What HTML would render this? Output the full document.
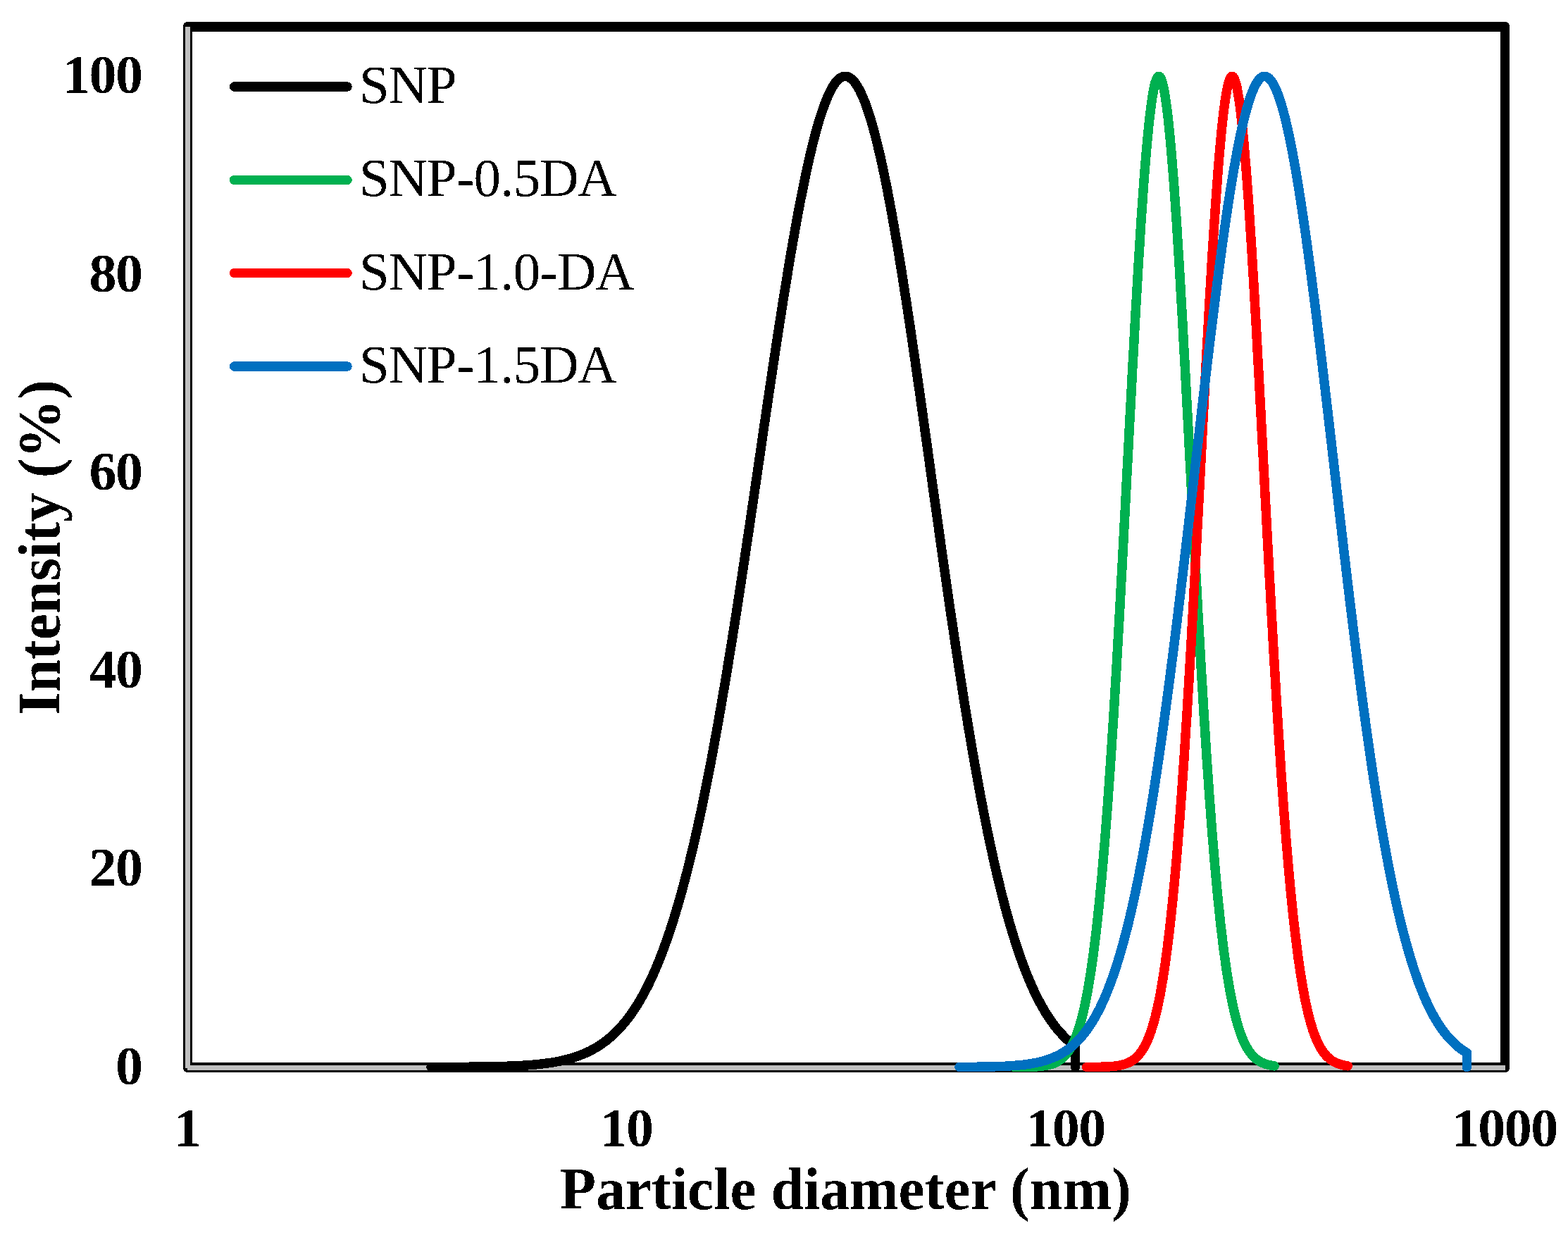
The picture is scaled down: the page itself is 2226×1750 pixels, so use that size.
<!DOCTYPE html>
<html lang="en">
<head>
<meta charset="utf-8">
<title>Particle size distribution</title>
<style>
html,body{margin:0;padding:0;background:#fff;}
body{width:2226px;height:1750px;}
svg{display:block;}
text{font-family:"Liberation Serif",serif;fill:#000;filter:url(#bin);}
.tick{font-size:78px;font-weight:bold;}
.title{font-size:83.6px;font-weight:bold;}
.leg{font-size:77px;}
</style>
</head>
<body>
<svg width="2226" height="1750" viewBox="0 0 2226 1750">
<defs>
<filter id="bin" x="-5%" y="-20%" width="110%" height="140%" color-interpolation-filters="sRGB">
<feComponentTransfer><feFuncA type="discrete" tableValues="0 1"/></feComponentTransfer>
</filter>
</defs>
<rect x="0" y="0" width="2226" height="1750" fill="#ffffff"/>
<g shape-rendering="crispEdges">
<path fill="#000" fill-rule="evenodd" d="M266 31 H2137 A6 6 0 0 1 2143 37 V1516 A6 6 0 0 1 2137 1522 H266 A6 6 0 0 1 260 1516 V37 A6 6 0 0 1 266 31 Z M273 45 V1508 H2130 V45 Z"/>
<path fill="#BFBFBF" d="M263 38 H270 V1512 H2137 V1519 H266 V1516 H263 Z"/>
</g>
<path d="M612.0 1514.5 L614.8 1514.5 L617.5 1514.4 L620.3 1514.4 L623.1 1514.4 L625.8 1514.4 L628.6 1514.4 L631.4 1514.4 L634.1 1514.4 L636.9 1514.4 L639.7 1514.4 L642.4 1514.4 L645.2 1514.4 L647.9 1514.4 L650.7 1514.3 L653.4 1514.3 L656.2 1514.3 L658.9 1514.3 L661.7 1514.3 L664.4 1514.3 L667.2 1514.2 L669.9 1514.2 L672.7 1514.2 L675.4 1514.2 L678.2 1514.1 L680.9 1514.1 L683.6 1514.1 L686.4 1514.0 L689.1 1514.0 L691.9 1514.0 L694.6 1513.9 L697.3 1513.9 L700.1 1513.8 L702.8 1513.8 L705.5 1513.7 L708.2 1513.6 L711.0 1513.6 L713.7 1513.5 L716.4 1513.4 L719.1 1513.3 L721.9 1513.2 L724.6 1513.1 L727.3 1513.0 L730.0 1512.9 L732.7 1512.8 L735.4 1512.7 L738.2 1512.5 L740.9 1512.4 L743.6 1512.2 L746.3 1512.0 L749.0 1511.8 L751.7 1511.6 L754.4 1511.4 L757.1 1511.2 L759.8 1511.0 L762.5 1510.7 L765.2 1510.4 L767.9 1510.1 L770.6 1509.8 L773.3 1509.5 L776.0 1509.1 L778.7 1508.8 L781.4 1508.4 L784.1 1507.9 L786.8 1507.5 L789.5 1507.0 L792.2 1506.5 L794.8 1506.0 L797.5 1505.4 L800.2 1504.8 L802.9 1504.1 L805.6 1503.4 L808.3 1502.7 L810.9 1502.0 L813.6 1501.2 L816.3 1500.3 L819.0 1499.4 L821.6 1498.4 L824.3 1497.4 L827.0 1496.4 L829.7 1495.3 L832.3 1494.1 L835.0 1492.8 L837.7 1491.5 L840.3 1490.1 L843.0 1488.7 L845.6 1487.2 L848.3 1485.6 L851.0 1483.9 L853.6 1482.1 L856.3 1480.2 L858.9 1478.3 L861.6 1476.3 L864.2 1474.1 L866.9 1471.9 L869.5 1469.5 L872.2 1467.0 L874.8 1464.5 L877.5 1461.8 L880.1 1459.0 L882.8 1456.0 L885.4 1452.9 L888.1 1449.7 L890.7 1446.4 L893.3 1442.9 L896.0 1439.3 L898.6 1435.5 L901.2 1431.5 L903.9 1427.4 L906.5 1423.2 L909.1 1418.7 L911.8 1414.1 L914.4 1409.3 L917.0 1404.3 L919.7 1399.2 L922.3 1393.8 L924.9 1388.3 L927.5 1382.5 L930.1 1376.6 L932.8 1370.4 L935.4 1364.0 L938.0 1357.4 L940.6 1350.6 L943.2 1343.6 L945.8 1336.3 L948.5 1328.8 L951.1 1321.1 L953.7 1313.1 L956.3 1304.9 L958.9 1296.4 L961.5 1287.7 L964.1 1278.7 L966.7 1269.5 L969.3 1260.1 L971.9 1250.3 L974.5 1240.4 L977.1 1230.1 L979.7 1219.6 L982.3 1208.9 L984.9 1197.9 L987.5 1186.6 L990.1 1175.0 L992.7 1163.2 L995.3 1151.2 L997.8 1138.9 L1000.4 1126.3 L1003.0 1113.5 L1005.6 1100.4 L1008.2 1087.1 L1010.8 1073.5 L1013.3 1059.7 L1015.9 1045.6 L1018.5 1031.4 L1021.1 1016.8 L1023.6 1002.1 L1026.2 987.2 L1028.8 972.0 L1031.4 956.6 L1033.9 941.1 L1036.5 925.3 L1039.1 909.4 L1041.6 893.3 L1044.2 877.0 L1046.8 860.6 L1049.3 844.0 L1051.9 827.3 L1054.4 810.5 L1057.0 793.6 L1059.5 776.5 L1062.1 759.4 L1064.7 742.2 L1067.2 724.9 L1069.8 707.6 L1072.3 690.2 L1074.9 672.9 L1077.4 655.5 L1080.0 638.1 L1082.5 620.7 L1085.0 603.4 L1087.6 586.1 L1090.1 568.9 L1092.7 551.8 L1095.2 534.8 L1097.7 517.8 L1100.3 501.0 L1102.8 484.4 L1105.3 467.9 L1107.9 451.6 L1110.4 435.5 L1112.9 419.6 L1115.5 403.9 L1118.0 388.5 L1120.5 373.3 L1123.0 358.4 L1125.6 343.8 L1128.1 329.5 L1130.6 315.5 L1133.1 301.9 L1135.6 288.6 L1138.2 275.7 L1140.7 263.2 L1143.2 251.1 L1145.7 239.4 L1148.2 228.1 L1150.7 217.2 L1153.2 206.9 L1155.7 196.9 L1158.2 187.5 L1160.7 178.5 L1163.2 170.0 L1165.8 162.1 L1168.3 154.6 L1170.8 147.7 L1173.3 141.4 L1175.7 135.5 L1178.2 130.2 L1180.7 125.5 L1183.2 121.4 L1185.7 117.8 L1188.2 114.7 L1190.7 112.3 L1193.2 110.4 L1195.7 109.1 L1198.2 108.4 L1200.6 108.3 L1203.1 108.8 L1205.6 109.8 L1208.1 111.5 L1210.6 113.7 L1213.1 116.5 L1215.5 119.9 L1218.0 123.8 L1220.5 128.3 L1222.9 133.4 L1225.4 139.0 L1227.9 145.1 L1230.4 151.8 L1232.8 159.1 L1235.3 166.8 L1237.8 175.1 L1240.2 183.9 L1242.7 193.1 L1245.1 202.9 L1247.6 213.1 L1250.1 223.7 L1252.5 234.8 L1255.0 246.4 L1257.4 258.3 L1259.9 270.7 L1262.3 283.5 L1264.8 296.6 L1267.2 310.1 L1269.7 323.9 L1272.1 338.1 L1274.6 352.6 L1277.0 367.4 L1279.5 382.4 L1281.9 397.7 L1284.3 413.3 L1286.8 429.1 L1289.2 445.2 L1291.7 461.4 L1294.1 477.8 L1296.5 494.4 L1299.0 511.1 L1301.4 528.0 L1303.8 545.0 L1306.3 562.1 L1308.7 579.3 L1311.1 596.5 L1313.5 613.8 L1316.0 631.2 L1318.4 648.6 L1320.8 666.0 L1323.2 683.3 L1325.6 700.7 L1328.1 718.0 L1330.5 735.3 L1332.9 752.6 L1335.3 769.7 L1337.7 786.8 L1340.1 803.8 L1342.5 820.6 L1344.9 837.4 L1347.3 854.0 L1349.7 870.5 L1352.2 886.8 L1354.6 903.0 L1357.0 919.0 L1359.4 934.8 L1361.8 950.5 L1364.2 965.9 L1366.6 981.2 L1368.9 996.2 L1371.3 1011.0 L1373.7 1025.6 L1376.1 1040.0 L1378.5 1054.1 L1380.9 1068.0 L1383.3 1081.7 L1385.7 1095.1 L1388.1 1108.3 L1390.4 1121.2 L1392.8 1133.9 L1395.2 1146.3 L1397.6 1158.5 L1400.0 1170.4 L1402.3 1182.0 L1404.7 1193.4 L1407.1 1204.5 L1409.5 1215.4 L1411.8 1226.0 L1414.2 1236.3 L1416.6 1246.4 L1419.0 1256.2 L1421.3 1265.8 L1423.7 1275.1 L1426.0 1284.2 L1428.4 1293.0 L1430.8 1301.5 L1433.1 1309.8 L1435.5 1317.9 L1437.9 1325.7 L1440.2 1333.3 L1442.6 1340.7 L1444.9 1347.8 L1447.3 1354.7 L1449.6 1361.4 L1452.0 1367.9 L1454.3 1374.1 L1456.7 1380.2 L1459.0 1386.0 L1461.4 1391.6 L1463.7 1397.1 L1466.0 1402.3 L1468.4 1407.4 L1470.7 1412.2 L1473.1 1416.9 L1475.4 1421.4 L1477.7 1425.7 L1480.1 1429.9 L1482.4 1433.9 L1484.7 1437.8 L1487.1 1441.5 L1489.4 1445.0 L1491.7 1448.4 L1494.1 1451.7 L1496.4 1454.8 L1498.7 1457.8 L1501.0 1460.7 L1503.4 1463.4 L1505.7 1466.0 L1508.0 1468.5 L1510.3 1470.9 L1512.6 1473.2 L1514.9 1475.4 L1517.3 1477.5 L1519.6 1479.5 L1521.9 1481.4 L1524.2 1483.2 L1526.5 1484.9 L1526.5 1514.5" fill="none" stroke="#000000" stroke-width="13.5" stroke-linecap="round" stroke-linejoin="round" shape-rendering="crispEdges"/>
<path d="M1440.0 1514.5 L1441.0 1514.5 L1442.1 1514.5 L1443.1 1514.5 L1444.1 1514.4 L1445.1 1514.4 L1446.2 1514.4 L1447.2 1514.4 L1448.2 1514.4 L1449.2 1514.4 L1450.3 1514.4 L1451.3 1514.4 L1452.3 1514.4 L1453.3 1514.4 L1454.4 1514.3 L1455.4 1514.3 L1456.4 1514.3 L1457.4 1514.3 L1458.5 1514.3 L1459.5 1514.3 L1460.5 1514.2 L1461.5 1514.2 L1462.6 1514.2 L1463.6 1514.1 L1464.6 1514.1 L1465.6 1514.1 L1466.7 1514.0 L1467.7 1514.0 L1468.7 1513.9 L1469.7 1513.9 L1470.8 1513.8 L1471.8 1513.8 L1472.8 1513.7 L1473.8 1513.6 L1474.9 1513.5 L1475.9 1513.4 L1476.9 1513.4 L1477.9 1513.2 L1479.0 1513.1 L1480.0 1513.0 L1481.0 1512.9 L1482.0 1512.7 L1483.1 1512.6 L1484.1 1512.4 L1485.1 1512.2 L1486.1 1512.0 L1487.2 1511.8 L1488.2 1511.6 L1489.2 1511.4 L1490.2 1511.1 L1491.3 1510.8 L1492.3 1510.5 L1493.3 1510.2 L1494.3 1509.9 L1495.4 1509.5 L1496.4 1509.1 L1497.4 1508.7 L1498.4 1508.2 L1499.5 1507.7 L1500.5 1507.2 L1501.5 1506.6 L1502.5 1506.0 L1503.6 1505.4 L1504.6 1504.7 L1505.6 1503.9 L1506.6 1503.1 L1507.7 1502.3 L1508.7 1501.4 L1509.7 1500.5 L1510.7 1499.5 L1511.8 1498.4 L1512.8 1497.2 L1513.8 1496.0 L1514.8 1494.7 L1515.9 1493.4 L1516.9 1491.9 L1517.9 1490.4 L1518.9 1488.8 L1520.0 1487.0 L1521.0 1485.2 L1522.0 1483.3 L1523.0 1481.2 L1524.1 1479.1 L1525.1 1476.8 L1526.1 1474.4 L1527.1 1471.9 L1528.2 1469.3 L1529.2 1466.5 L1530.2 1463.5 L1531.2 1460.4 L1532.3 1457.2 L1533.3 1453.7 L1534.3 1450.2 L1535.4 1446.4 L1536.4 1442.5 L1537.4 1438.3 L1538.4 1434.0 L1539.5 1429.5 L1540.5 1424.7 L1541.5 1419.8 L1542.5 1414.6 L1543.6 1409.2 L1544.6 1403.6 L1545.6 1397.7 L1546.6 1391.6 L1547.7 1385.2 L1548.7 1378.6 L1549.7 1371.7 L1550.7 1364.6 L1551.8 1357.2 L1552.8 1349.4 L1553.8 1341.4 L1554.8 1333.2 L1555.9 1324.6 L1556.9 1315.7 L1557.9 1306.5 L1558.9 1297.0 L1560.0 1287.2 L1561.0 1277.0 L1562.0 1266.6 L1563.0 1255.8 L1564.1 1244.7 L1565.1 1233.2 L1566.1 1221.5 L1567.1 1209.4 L1568.2 1197.0 L1569.2 1184.2 L1570.2 1171.1 L1571.2 1157.7 L1572.3 1143.9 L1573.3 1129.9 L1574.3 1115.5 L1575.3 1100.7 L1576.4 1085.7 L1577.4 1070.4 L1578.4 1054.7 L1579.4 1038.8 L1580.5 1022.5 L1581.5 1006.0 L1582.5 989.2 L1583.5 972.1 L1584.6 954.7 L1585.6 937.2 L1586.6 919.3 L1587.6 901.3 L1588.7 883.0 L1589.7 864.5 L1590.7 845.9 L1591.7 827.1 L1592.8 808.1 L1593.8 789.0 L1594.8 769.7 L1595.8 750.4 L1596.9 730.9 L1597.9 711.4 L1598.9 691.8 L1599.9 672.2 L1601.0 652.6 L1602.0 633.0 L1603.0 613.5 L1604.0 594.0 L1605.1 574.5 L1606.1 555.2 L1607.1 536.0 L1608.1 516.9 L1609.2 498.0 L1610.2 479.2 L1611.2 460.7 L1612.2 442.4 L1613.3 424.4 L1614.3 406.7 L1615.3 389.2 L1616.3 372.1 L1617.4 355.4 L1618.4 339.0 L1619.4 323.0 L1620.4 307.5 L1621.5 292.4 L1622.5 277.7 L1623.5 263.6 L1624.5 249.9 L1625.6 236.8 L1626.6 224.2 L1627.6 212.2 L1628.7 200.8 L1629.7 189.9 L1630.7 179.7 L1631.7 170.1 L1632.8 161.2 L1633.8 152.9 L1634.8 145.3 L1635.8 138.4 L1636.9 132.1 L1637.9 126.6 L1638.9 121.8 L1639.9 117.7 L1641.0 114.4 L1642.0 111.7 L1643.0 109.9 L1644.0 108.7 L1645.1 108.3 L1646.1 108.6 L1647.1 109.7 L1648.1 111.5 L1649.2 114.1 L1650.2 117.4 L1651.2 121.4 L1652.2 126.2 L1653.3 131.6 L1654.3 137.8 L1655.3 144.7 L1656.3 152.2 L1657.4 160.4 L1658.4 169.3 L1659.4 178.8 L1660.4 189.0 L1661.5 199.8 L1662.5 211.2 L1663.5 223.1 L1664.5 235.7 L1665.6 248.8 L1666.6 262.4 L1667.6 276.5 L1668.6 291.1 L1669.7 306.2 L1670.7 321.7 L1671.7 337.6 L1672.7 354.0 L1673.8 370.7 L1674.8 387.8 L1675.8 405.2 L1676.8 422.9 L1677.9 440.9 L1678.9 459.1 L1679.9 477.6 L1680.9 496.3 L1682.0 515.2 L1683.0 534.3 L1684.0 553.5 L1685.0 572.8 L1686.1 592.3 L1687.1 611.8 L1688.1 631.3 L1689.1 650.9 L1690.2 670.5 L1691.2 690.1 L1692.2 709.7 L1693.2 729.2 L1694.3 748.7 L1695.3 768.0 L1696.3 787.3 L1697.3 806.4 L1698.4 825.4 L1699.4 844.3 L1700.4 862.9 L1701.4 881.4 L1702.5 899.7 L1703.5 917.8 L1704.5 935.6 L1705.5 953.2 L1706.6 970.6 L1707.6 987.7 L1708.6 1004.5 L1709.6 1021.1 L1710.7 1037.4 L1711.7 1053.3 L1712.7 1069.0 L1713.7 1084.4 L1714.8 1099.4 L1715.8 1114.2 L1716.8 1128.6 L1717.9 1142.7 L1718.9 1156.5 L1719.9 1170.0 L1720.9 1183.1 L1722.0 1195.9 L1723.0 1208.3 L1724.0 1220.4 L1725.0 1232.2 L1726.1 1243.7 L1727.1 1254.8 L1728.1 1265.6 L1729.1 1276.1 L1730.2 1286.3 L1731.2 1296.1 L1732.2 1305.7 L1733.2 1314.9 L1734.3 1323.8 L1735.3 1332.4 L1736.3 1340.7 L1737.3 1348.8 L1738.4 1356.5 L1739.4 1363.9 L1740.4 1371.1 L1741.4 1378.0 L1742.5 1384.7 L1743.5 1391.1 L1744.5 1397.2 L1745.5 1403.1 L1746.6 1408.7 L1747.6 1414.2 L1748.6 1419.3 L1749.6 1424.3 L1750.7 1429.1 L1751.7 1433.6 L1752.7 1438.0 L1753.7 1442.1 L1754.8 1446.1 L1755.8 1449.8 L1756.8 1453.4 L1757.8 1456.9 L1758.9 1460.1 L1759.9 1463.3 L1760.9 1466.2 L1761.9 1469.0 L1763.0 1471.7 L1764.0 1474.2 L1765.0 1476.6 L1766.0 1478.9 L1767.1 1481.1 L1768.1 1483.1 L1769.1 1485.0 L1770.1 1486.9 L1771.2 1488.6 L1772.2 1490.2 L1773.2 1491.8 L1774.2 1493.2 L1775.3 1494.6 L1776.3 1495.9 L1777.3 1497.1 L1778.3 1498.3 L1779.4 1499.4 L1780.4 1500.4 L1781.4 1501.3 L1782.4 1502.2 L1783.5 1503.1 L1784.5 1503.9 L1785.5 1504.6 L1786.5 1505.3 L1787.6 1505.9 L1788.6 1506.6 L1789.6 1507.1 L1790.6 1507.7 L1791.7 1508.1 L1792.7 1508.6 L1793.7 1509.0 L1794.7 1509.4 L1795.8 1509.8 L1796.8 1510.2 L1797.8 1510.5 L1798.8 1510.8 L1799.9 1511.1 L1800.9 1511.4 L1801.9 1511.6 L1802.9 1511.8 L1804.0 1512.0 L1805.0 1512.2 L1806.0 1512.4 L1807.0 1512.6 L1808.1 1512.7 L1809.1 1512.9" fill="none" stroke="#00B050" stroke-width="13.5" stroke-linecap="round" stroke-linejoin="round" shape-rendering="crispEdges"/>
<path d="M1542.5 1514.5 L1543.5 1514.5 L1544.6 1514.5 L1545.6 1514.5 L1546.6 1514.5 L1547.7 1514.4 L1548.7 1514.4 L1549.7 1514.4 L1550.7 1514.4 L1551.8 1514.4 L1552.8 1514.4 L1553.8 1514.4 L1554.9 1514.4 L1555.9 1514.4 L1556.9 1514.4 L1558.0 1514.4 L1559.0 1514.3 L1560.0 1514.3 L1561.0 1514.3 L1562.1 1514.3 L1563.1 1514.3 L1564.1 1514.2 L1565.2 1514.2 L1566.2 1514.2 L1567.2 1514.1 L1568.3 1514.1 L1569.3 1514.1 L1570.3 1514.0 L1571.3 1514.0 L1572.4 1513.9 L1573.4 1513.9 L1574.4 1513.8 L1575.5 1513.8 L1576.5 1513.7 L1577.5 1513.6 L1578.6 1513.5 L1579.6 1513.4 L1580.6 1513.4 L1581.7 1513.2 L1582.7 1513.1 L1583.7 1513.0 L1584.7 1512.9 L1585.8 1512.7 L1586.8 1512.6 L1587.8 1512.4 L1588.9 1512.2 L1589.9 1512.0 L1590.9 1511.8 L1592.0 1511.6 L1593.0 1511.4 L1594.0 1511.1 L1595.0 1510.8 L1596.1 1510.5 L1597.1 1510.2 L1598.1 1509.8 L1599.2 1509.5 L1600.2 1509.1 L1601.2 1508.6 L1602.3 1508.2 L1603.3 1507.7 L1604.3 1507.1 L1605.3 1506.6 L1606.4 1506.0 L1607.4 1505.3 L1608.4 1504.6 L1609.5 1503.9 L1610.5 1503.1 L1611.5 1502.2 L1612.6 1501.3 L1613.6 1500.4 L1614.6 1499.4 L1615.6 1498.3 L1616.7 1497.1 L1617.7 1495.9 L1618.7 1494.6 L1619.8 1493.2 L1620.8 1491.8 L1621.8 1490.2 L1622.9 1488.6 L1623.9 1486.9 L1624.9 1485.0 L1626.0 1483.1 L1627.0 1481.0 L1628.0 1478.9 L1629.0 1476.6 L1630.1 1474.2 L1631.1 1471.6 L1632.1 1468.9 L1633.2 1466.1 L1634.2 1463.1 L1635.2 1460.0 L1636.3 1456.7 L1637.3 1453.3 L1638.3 1449.7 L1639.3 1445.9 L1640.4 1441.9 L1641.4 1437.7 L1642.4 1433.3 L1643.5 1428.8 L1644.5 1424.0 L1645.5 1419.0 L1646.6 1413.8 L1647.6 1408.3 L1648.6 1402.7 L1649.6 1396.7 L1650.7 1390.6 L1651.7 1384.1 L1652.7 1377.5 L1653.8 1370.5 L1654.8 1363.3 L1655.8 1355.8 L1656.9 1348.0 L1657.9 1339.9 L1658.9 1331.6 L1660.0 1322.9 L1661.0 1313.9 L1662.0 1304.6 L1663.0 1295.1 L1664.1 1285.1 L1665.1 1274.9 L1666.1 1264.4 L1667.2 1253.5 L1668.2 1242.3 L1669.2 1230.8 L1670.3 1218.9 L1671.3 1206.7 L1672.3 1194.2 L1673.3 1181.3 L1674.4 1168.1 L1675.4 1154.6 L1676.4 1140.7 L1677.5 1126.5 L1678.5 1112.0 L1679.5 1097.2 L1680.6 1082.0 L1681.6 1066.5 L1682.6 1050.8 L1683.6 1034.7 L1684.7 1018.3 L1685.7 1001.7 L1686.7 984.8 L1687.8 967.6 L1688.8 950.1 L1689.8 932.4 L1690.9 914.5 L1691.9 896.3 L1692.9 878.0 L1694.0 859.4 L1695.0 840.6 L1696.0 821.7 L1697.0 802.6 L1698.1 783.4 L1699.1 764.1 L1700.1 744.7 L1701.2 725.2 L1702.2 705.6 L1703.2 685.9 L1704.3 666.3 L1705.3 646.6 L1706.3 627.0 L1707.3 607.4 L1708.4 587.9 L1709.4 568.4 L1710.4 549.0 L1711.5 529.8 L1712.5 510.7 L1713.5 491.8 L1714.6 473.1 L1715.6 454.6 L1716.6 436.4 L1717.6 418.4 L1718.7 400.7 L1719.7 383.3 L1720.7 366.3 L1721.8 349.7 L1722.8 333.4 L1723.8 317.5 L1724.9 302.1 L1725.9 287.1 L1726.9 272.6 L1728.0 258.5 L1729.0 245.0 L1730.0 232.1 L1731.0 219.7 L1732.1 207.8 L1733.1 196.6 L1734.1 186.0 L1735.2 176.0 L1736.2 166.6 L1737.2 157.9 L1738.3 149.8 L1739.3 142.5 L1740.3 135.8 L1741.3 129.9 L1742.4 124.6 L1743.4 120.1 L1744.4 116.3 L1745.5 113.2 L1746.5 110.9 L1747.5 109.3 L1748.6 108.4 L1749.6 108.4 L1750.6 109.0 L1751.6 110.4 L1752.7 112.5 L1753.7 115.4 L1754.7 119.0 L1755.8 123.4 L1756.8 128.5 L1757.8 134.3 L1758.9 140.7 L1759.9 147.9 L1760.9 155.8 L1761.9 164.3 L1763.0 173.6 L1764.0 183.4 L1765.0 193.9 L1766.1 205.0 L1767.1 216.7 L1768.1 228.9 L1769.2 241.7 L1770.2 255.1 L1771.2 269.0 L1772.3 283.4 L1773.3 298.3 L1774.3 313.6 L1775.3 329.4 L1776.4 345.5 L1777.4 362.1 L1778.4 379.0 L1779.5 396.3 L1780.5 413.9 L1781.5 431.8 L1782.6 450.0 L1783.6 468.4 L1784.6 487.1 L1785.6 506.0 L1786.7 525.0 L1787.7 544.2 L1788.7 563.5 L1789.8 583.0 L1790.8 602.5 L1791.8 622.1 L1792.9 641.7 L1793.9 661.4 L1794.9 681.0 L1795.9 700.7 L1797.0 720.2 L1798.0 739.8 L1799.0 759.2 L1800.1 778.6 L1801.1 797.8 L1802.1 816.9 L1803.2 835.9 L1804.2 854.7 L1805.2 873.3 L1806.3 891.7 L1807.3 910.0 L1808.3 927.9 L1809.3 945.7 L1810.4 963.2 L1811.4 980.5 L1812.4 997.5 L1813.5 1014.2 L1814.5 1030.6 L1815.5 1046.8 L1816.6 1062.6 L1817.6 1078.2 L1818.6 1093.4 L1819.6 1108.3 L1820.7 1122.9 L1821.7 1137.2 L1822.7 1151.1 L1823.8 1164.7 L1824.8 1178.0 L1825.8 1191.0 L1826.9 1203.6 L1827.9 1215.9 L1828.9 1227.8 L1829.9 1239.4 L1831.0 1250.7 L1832.0 1261.7 L1833.0 1272.3 L1834.1 1282.6 L1835.1 1292.6 L1836.1 1302.3 L1837.2 1311.6 L1838.2 1320.7 L1839.2 1329.4 L1840.3 1337.9 L1841.3 1346.0 L1842.3 1353.9 L1843.3 1361.4 L1844.4 1368.7 L1845.4 1375.7 L1846.4 1382.5 L1847.5 1389.0 L1848.5 1395.2 L1849.5 1401.2 L1850.6 1406.9 L1851.6 1412.4 L1852.6 1417.7 L1853.6 1422.8 L1854.7 1427.6 L1855.7 1432.2 L1856.7 1436.6 L1857.8 1440.9 L1858.8 1444.9 L1859.8 1448.7 L1860.9 1452.4 L1861.9 1455.9 L1862.9 1459.2 L1863.9 1462.4 L1865.0 1465.4 L1866.0 1468.2 L1867.0 1471.0 L1868.1 1473.5 L1869.1 1476.0 L1870.1 1478.3 L1871.2 1480.5 L1872.2 1482.6 L1873.2 1484.5 L1874.2 1486.4 L1875.3 1488.2 L1876.3 1489.8 L1877.3 1491.4 L1878.4 1492.9 L1879.4 1494.3 L1880.4 1495.6 L1881.5 1496.8 L1882.5 1498.0 L1883.5 1499.1 L1884.6 1500.1 L1885.6 1501.1 L1886.6 1502.0 L1887.6 1502.9 L1888.7 1503.7 L1889.7 1504.4 L1890.7 1505.1 L1891.8 1505.8 L1892.8 1506.4 L1893.8 1507.0 L1894.9 1507.5 L1895.9 1508.0 L1896.9 1508.5 L1897.9 1509.0 L1899.0 1509.4 L1900.0 1509.8 L1901.0 1510.1 L1902.1 1510.4 L1903.1 1510.7 L1904.1 1511.0 L1905.2 1511.3 L1906.2 1511.6 L1907.2 1511.8 L1908.2 1512.0 L1909.3 1512.2 L1910.3 1512.4 L1911.3 1512.5 L1912.4 1512.7 L1913.4 1512.8" fill="none" stroke="#FF0000" stroke-width="13.5" stroke-linecap="round" stroke-linejoin="round" shape-rendering="crispEdges"/>
<path d="M1362.0 1514.4 L1364.0 1514.4 L1366.0 1514.4 L1368.0 1514.4 L1370.0 1514.4 L1372.0 1514.4 L1374.0 1514.4 L1376.0 1514.3 L1378.0 1514.3 L1380.0 1514.3 L1382.0 1514.3 L1384.0 1514.3 L1386.0 1514.3 L1388.0 1514.2 L1390.0 1514.2 L1392.0 1514.2 L1394.0 1514.2 L1396.0 1514.1 L1398.0 1514.1 L1400.0 1514.1 L1402.0 1514.0 L1404.0 1514.0 L1406.0 1513.9 L1408.0 1513.9 L1410.0 1513.8 L1412.0 1513.8 L1414.0 1513.7 L1416.0 1513.7 L1418.0 1513.6 L1420.0 1513.5 L1422.0 1513.4 L1424.0 1513.3 L1426.0 1513.3 L1428.0 1513.2 L1430.0 1513.1 L1432.0 1512.9 L1434.0 1512.8 L1436.0 1512.7 L1438.0 1512.6 L1440.0 1512.4 L1442.0 1512.2 L1444.0 1512.1 L1446.0 1511.9 L1448.0 1511.7 L1450.0 1511.5 L1452.0 1511.3 L1454.1 1511.0 L1456.1 1510.8 L1458.1 1510.5 L1460.1 1510.2 L1462.1 1509.9 L1464.1 1509.6 L1466.1 1509.2 L1468.1 1508.9 L1470.1 1508.5 L1472.1 1508.1 L1474.1 1507.6 L1476.1 1507.2 L1478.1 1506.7 L1480.1 1506.1 L1482.1 1505.6 L1484.1 1505.0 L1486.1 1504.3 L1488.1 1503.7 L1490.1 1503.0 L1492.1 1502.2 L1494.1 1501.4 L1496.1 1500.6 L1498.1 1499.7 L1500.1 1498.8 L1502.1 1497.8 L1504.1 1496.8 L1506.1 1495.7 L1508.1 1494.5 L1510.1 1493.3 L1512.1 1492.0 L1514.1 1490.7 L1516.1 1489.3 L1518.1 1487.8 L1520.1 1486.2 L1522.1 1484.6 L1524.1 1482.8 L1526.1 1481.0 L1528.1 1479.1 L1530.1 1477.1 L1532.1 1475.0 L1534.1 1472.8 L1536.1 1470.5 L1538.1 1468.1 L1540.1 1465.6 L1542.1 1463.0 L1544.1 1460.2 L1546.1 1457.3 L1548.1 1454.3 L1550.1 1451.2 L1552.1 1447.9 L1554.1 1444.5 L1556.1 1441.0 L1558.1 1437.3 L1560.1 1433.4 L1562.1 1429.4 L1564.1 1425.2 L1566.1 1420.9 L1568.1 1416.4 L1570.1 1411.7 L1572.1 1406.8 L1574.1 1401.7 L1576.1 1396.5 L1578.1 1391.1 L1580.1 1385.4 L1582.1 1379.6 L1584.1 1373.6 L1586.1 1367.3 L1588.1 1360.9 L1590.1 1354.2 L1592.1 1347.3 L1594.1 1340.2 L1596.1 1332.8 L1598.1 1325.2 L1600.1 1317.4 L1602.1 1309.4 L1604.1 1301.1 L1606.1 1292.5 L1608.1 1283.7 L1610.1 1274.7 L1612.1 1265.4 L1614.1 1255.9 L1616.1 1246.1 L1618.1 1236.0 L1620.1 1225.7 L1622.1 1215.1 L1624.1 1204.3 L1626.1 1193.2 L1628.1 1181.9 L1630.1 1170.3 L1632.2 1158.4 L1634.2 1146.3 L1636.2 1133.9 L1638.2 1121.3 L1640.2 1108.4 L1642.2 1095.3 L1644.2 1081.9 L1646.2 1068.3 L1648.2 1054.4 L1650.2 1040.3 L1652.2 1026.0 L1654.2 1011.5 L1656.2 996.7 L1658.2 981.7 L1660.2 966.6 L1662.2 951.2 L1664.2 935.6 L1666.2 919.8 L1668.2 903.9 L1670.2 887.8 L1672.2 871.5 L1674.2 855.1 L1676.2 838.6 L1678.2 821.9 L1680.2 805.1 L1682.2 788.2 L1684.2 771.2 L1686.2 754.1 L1688.2 736.9 L1690.2 719.7 L1692.2 702.4 L1694.2 685.1 L1696.2 667.8 L1698.2 650.5 L1700.2 633.1 L1702.2 615.8 L1704.2 598.6 L1706.2 581.4 L1708.2 564.3 L1710.2 547.2 L1712.2 530.3 L1714.2 513.4 L1716.2 496.7 L1718.2 480.2 L1720.2 463.8 L1722.2 447.6 L1724.2 431.6 L1726.2 415.8 L1728.2 400.2 L1730.2 384.9 L1732.2 369.9 L1734.2 355.1 L1736.2 340.6 L1738.2 326.4 L1740.2 312.6 L1742.2 299.1 L1744.2 285.9 L1746.2 273.1 L1748.2 260.7 L1750.2 248.7 L1752.2 237.1 L1754.2 226.0 L1756.2 215.3 L1758.2 205.0 L1760.2 195.2 L1762.2 185.8 L1764.2 177.0 L1766.2 168.7 L1768.2 160.8 L1770.2 153.5 L1772.2 146.7 L1774.2 140.4 L1776.2 134.7 L1778.2 129.5 L1780.2 124.9 L1782.2 120.8 L1784.2 117.3 L1786.2 114.4 L1788.2 112.0 L1790.2 110.2 L1792.2 109.0 L1794.2 108.4 L1796.2 108.4 L1798.2 108.9 L1800.2 110.0 L1802.2 111.7 L1804.2 114.0 L1806.2 116.8 L1808.2 120.2 L1810.2 124.2 L1812.2 128.7 L1814.3 133.8 L1816.3 139.5 L1818.3 145.6 L1820.3 152.4 L1822.3 159.6 L1824.3 167.4 L1826.3 175.6 L1828.3 184.4 L1830.3 193.7 L1832.3 203.4 L1834.3 213.6 L1836.3 224.2 L1838.3 235.3 L1840.3 246.9 L1842.3 258.8 L1844.3 271.1 L1846.3 283.9 L1848.3 297.0 L1850.3 310.4 L1852.3 324.2 L1854.3 338.3 L1856.3 352.8 L1858.3 367.5 L1860.3 382.5 L1862.3 397.8 L1864.3 413.3 L1866.3 429.1 L1868.3 445.0 L1870.3 461.2 L1872.3 477.6 L1874.3 494.1 L1876.3 510.8 L1878.3 527.6 L1880.3 544.5 L1882.3 561.5 L1884.3 578.7 L1886.3 595.8 L1888.3 613.1 L1890.3 630.4 L1892.3 647.7 L1894.3 665.0 L1896.3 682.3 L1898.3 699.7 L1900.3 716.9 L1902.3 734.2 L1904.3 751.3 L1906.3 768.4 L1908.3 785.5 L1910.3 802.4 L1912.3 819.2 L1914.3 835.9 L1916.3 852.5 L1918.3 868.9 L1920.3 885.2 L1922.3 901.3 L1924.3 917.3 L1926.3 933.1 L1928.3 948.7 L1930.3 964.1 L1932.3 979.3 L1934.3 994.3 L1936.3 1009.1 L1938.3 1023.7 L1940.3 1038.1 L1942.3 1052.2 L1944.3 1066.1 L1946.3 1079.7 L1948.3 1093.2 L1950.3 1106.3 L1952.3 1119.2 L1954.3 1131.9 L1956.3 1144.3 L1958.3 1156.5 L1960.3 1168.4 L1962.3 1180.0 L1964.3 1191.4 L1966.3 1202.5 L1968.3 1213.4 L1970.3 1224.0 L1972.3 1234.4 L1974.3 1244.5 L1976.3 1254.3 L1978.3 1263.9 L1980.3 1273.2 L1982.3 1282.3 L1984.3 1291.1 L1986.3 1299.7 L1988.3 1308.0 L1990.3 1316.1 L1992.4 1324.0 L1994.4 1331.6 L1996.4 1339.0 L1998.4 1346.2 L2000.4 1353.1 L2002.4 1359.8 L2004.4 1366.3 L2006.4 1372.6 L2008.4 1378.7 L2010.4 1384.5 L2012.4 1390.2 L2014.4 1395.7 L2016.4 1400.9 L2018.4 1406.0 L2020.4 1410.9 L2022.4 1415.6 L2024.4 1420.2 L2026.4 1424.5 L2028.4 1428.7 L2030.4 1432.8 L2032.4 1436.7 L2034.4 1440.4 L2036.4 1444.0 L2038.4 1447.4 L2040.4 1450.7 L2042.4 1453.8 L2044.4 1456.9 L2046.4 1459.8 L2048.4 1462.5 L2050.4 1465.2 L2052.4 1467.7 L2054.4 1470.2 L2056.4 1472.5 L2058.4 1474.7 L2060.4 1476.8 L2062.4 1478.8 L2064.4 1480.7 L2066.4 1482.6 L2068.4 1484.3 L2070.4 1486.0 L2072.4 1487.5 L2074.4 1489.0 L2076.4 1490.5 L2078.4 1491.8 L2080.4 1493.1 L2082.4 1494.3 L2082.4 1514.5" fill="none" stroke="#0070C0" stroke-width="13.5" stroke-linecap="round" stroke-linejoin="round" shape-rendering="crispEdges"/>
<line x1="332.5" y1="123" x2="493" y2="123" stroke="#000000" stroke-width="13.5" stroke-linecap="round" shape-rendering="crispEdges"/>
<text class="leg" x="509.94 551.48 605.79" y="145.5">SNP</text>
<line x1="332.5" y1="255.5" x2="493" y2="255.5" stroke="#00B050" stroke-width="13.5" stroke-linecap="round" shape-rendering="crispEdges"/>
<text class="leg" x="509.94 551.48 605.79 647.72 672.53 710.28 728.78 766.05 820.20" y="278.3">SNP-0.5DA</text>
<line x1="332.5" y1="387.5" x2="493" y2="387.5" stroke="#FF0000" stroke-width="13.5" stroke-linecap="round" shape-rendering="crispEdges"/>
<text class="leg" x="509.94 551.48 605.79 647.72 672.53 710.28 728.78 766.44 791.03 845.18" y="410.7">SNP-1.0-DA</text>
<line x1="332.5" y1="520" x2="493" y2="520" stroke="#0070C0" stroke-width="13.5" stroke-linecap="round" shape-rendering="crispEdges"/>
<text class="leg" x="509.94 551.48 605.79 647.72 672.53 710.28 728.78 766.05 820.20" y="543">SNP-1.5DA</text>
<text class="tick" x="164.05" y="1538.5">0</text>
<text class="tick" x="126.55 164.05" y="1257.3">20</text>
<text class="tick" x="126.55 164.05" y="976.0">40</text>
<text class="tick" x="126.55 164.05" y="694.8">60</text>
<text class="tick" x="126.55 164.05" y="413.5">80</text>
<text class="tick" x="89.05 126.55 164.05" y="132.3">100</text>
<text class="tick" x="247.00" y="1627.2">1</text>
<text class="tick" x="851.58 889.08" y="1627.2">10</text>
<text class="tick" x="1456.17 1493.67 1531.17" y="1627.2">100</text>
<text class="tick" x="2060.75 2098.25 2135.75 2173.25" y="1627.2">1000</text>
<text class="title" x="1200.5" y="1715.5" text-anchor="middle">Particle diameter (nm)</text>
<text class="title" transform="translate(84.5,777) rotate(-90)" text-anchor="middle">Intensity (%)</text>
</svg>
</body>
</html>
